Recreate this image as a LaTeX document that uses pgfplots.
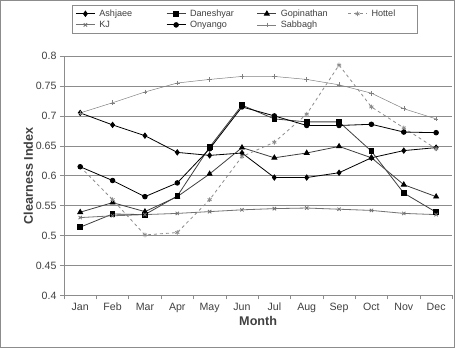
\documentclass[border=0pt]{standalone}
\usepackage{fontspec}
\setmainfont{Liberation Sans}
\usepackage{pgfplots}
\pgfplotsset{compat=1.18}
\definecolor{txt}{gray}{0.25}
\definecolor{gridc}{gray}{0.55}
\begin{document}
\begin{tikzpicture}
\begin{axis}[
  scale only axis, width=383bp, height=236bp,
  xmin=-0.5, xmax=11.5, ymin=0.4, ymax=0.8,
  clip=false,
  axis x line*=bottom, axis y line*=left,
  axis line style={gridc, line width=0.6pt},
  xtick={0,...,11},
  xticklabels={Jan,Feb,Mar,Apr,May,Jun,Jul,Aug,Sep,Oct,Nov,Dec},
  minor xtick={-0.5,0.5,1.5,2.5,3.5,4.5,5.5,6.5,7.5,8.5,9.5,10.5,11.5},
  major x tick style={draw=none},
  minor x tick style={gridc, line width=0.6pt},
  ytick={0.4,0.45,0.5,0.55,0.6,0.65,0.7,0.75,0.8},
  y tick style={gridc, line width=0.6pt},
  tick align=outside, major tick length=4bp, minor tick length=4bp,
  ymajorgrids, grid style={gridc, line width=0.6pt},
  yticklabel style={/pgf/number format/fixed, /pgf/number format/precision=2, /pgf/number format/assume math mode=true},
  ticklabel style={font=\fontsize{10.5}{12}\selectfont, text=txt},
  xlabel={\textbf{Month}}, ylabel={\textbf{Clearness Index}},
  label style={font=\fontsize{12.5}{14}\selectfont, text=txt},
  xlabel style={yshift=3bp},
  ylabel style={yshift=-4bp},
  legend columns=4,
  legend style={at={(rel axis cs:0.021,1.212)}, anchor=north west,
    draw=gridc, line width=0.6pt, font=\fontsize{9}{10.5}\selectfont, text=txt,
    inner xsep=3bp, inner ysep=2bp, row sep=-1bp},
  legend cell align=left,
  legend image code/.code={\draw[mark repeat=2,mark phase=2] plot coordinates {(0cm,0cm) (0.33cm,0cm) (0.66cm,0cm)};},
  every axis plot/.append style={line width=0.8pt},
  /tikz/every even column/.append style={column sep=2bp},
  /tikz/every odd column/.append style={column sep=2bp},
]
\draw[gridc, line width=0.7pt] (rel axis cs:-0.164,-0.216) rectangle (rel axis cs:1.006,1.233);

% Ashjaee
\addplot[black, mark=diamond*, mark size=2.6pt] coordinates {
(0,0.705) (1,0.685) (2,0.667) (3,0.639) (4,0.634) (5,0.638) (6,0.597) (7,0.597) (8,0.605) (9,0.630) (10,0.642) (11,0.647)};
\addlegendentry{\makebox[62bp][l]{Ashjaee}}
% Daneshyar
\addplot[black!75, mark=square*, mark size=2.3pt, mark options={black}] coordinates {
(0,0.514) (1,0.536) (2,0.535) (3,0.566) (4,0.648) (5,0.718) (6,0.695) (7,0.690) (8,0.690) (9,0.641) (10,0.571) (11,0.539)};
\addlegendentry{\makebox[62bp][l]{Daneshyar}}
% Gopinathan
\addplot[black!75, mark=triangle*, mark size=2.8pt, mark options={black}] coordinates {
(0,0.539) (1,0.555) (2,0.540) (3,0.565) (4,0.603) (5,0.647) (6,0.630) (7,0.638) (8,0.649) (9,0.630) (10,0.585) (11,0.565)};
\addlegendentry{\makebox[62bp][l]{Gopinathan}}
% Hottel
\addplot[black!45, dashed, mark=asterisk, mark size=2.3pt, mark options={solid}] coordinates {
(0,0.615) (1,0.560) (2,0.501) (3,0.505) (4,0.560) (5,0.632) (6,0.656) (7,0.703) (8,0.785) (9,0.715) (10,0.680) (11,0.645)};
\addlegendentry{\makebox[40bp][l]{Hottel}}
% KJ
\addplot[black!55, mark=x, mark size=2.3pt] coordinates {
(0,0.530) (1,0.533) (2,0.535) (3,0.537) (4,0.540) (5,0.543) (6,0.545) (7,0.546) (8,0.544) (9,0.542) (10,0.537) (11,0.535)};
\addlegendentry{\makebox[62bp][l]{KJ}}
% Onyango
\addplot[black, mark=*, mark size=2.3pt] coordinates {
(0,0.615) (1,0.592) (2,0.565) (3,0.588) (4,0.645) (5,0.715) (6,0.700) (7,0.684) (8,0.684) (9,0.686) (10,0.673) (11,0.672)};
\addlegendentry{\makebox[62bp][l]{Onyango}}
% Sabbagh
\addplot[black!50, line width=0.5pt, mark=+, mark size=2.3pt] coordinates {
(0,0.705) (1,0.722) (2,0.740) (3,0.755) (4,0.761) (5,0.766) (6,0.766) (7,0.761) (8,0.752) (9,0.738) (10,0.712) (11,0.695)};
\addlegendentry{\makebox[62bp][l]{Sabbagh}}
\end{axis}
\end{tikzpicture}
\end{document}
